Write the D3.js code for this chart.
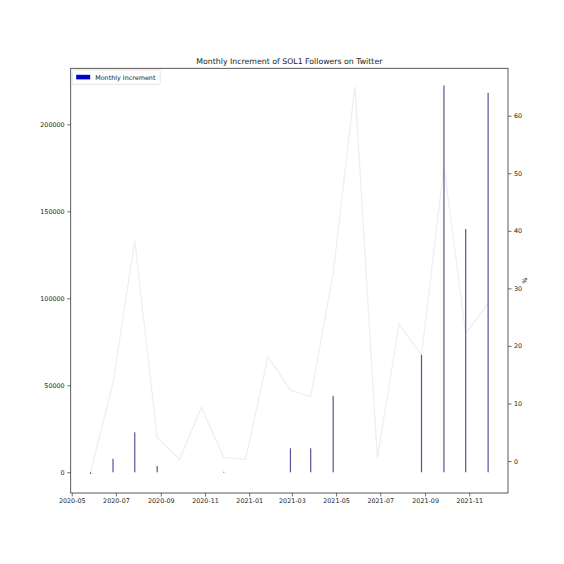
<!DOCTYPE html>
<meta charset="utf-8">
<style>
  body { margin: 0; background: #fff; }
  text { font-family: "DejaVu Sans", sans-serif; fill: #222; }
</style>
<body>
<div id="chart"></div>
<script src="https://cdn.jsdelivr.net/npm/d3@7"></script>
<script>
  // monthly points
  const dates = ['2020-05-27', '2020-06-27', '2020-07-27', '2020-08-27', '2020-09-27',
    '2020-10-27', '2020-11-27', '2020-12-27', '2021-01-27', '2021-02-27',
    '2021-03-27', '2021-04-27', '2021-05-27', '2021-06-27', '2021-07-27',
    '2021-08-27', '2021-09-27', '2021-10-27', '2021-11-27'];
  const increment = [-1000, 7800, 23000, 3600, 0, 0, 300, 0, 0, 13800,
    13800, 43900, 0, 0, 0, 67500, 222300, 139800, 218100];
  const percent = [-1.9, 13.6, 38.3, 4.0, 0.3, 9.3, 0.6, 0.3, 18.1, 12.3,
    11.2, 32.6, 65.1, 0.5, 23.8, 18.4, 51.2, 22.2, 27.4];
  const leftTicks = [0, 50000, 100000, 150000, 200000];
  const rightTicks = [0, 10, 20, 30, 40, 50, 60];
  const title = 'Monthly Increment of SOL1 Followers on Twitter';
  const legendLabel = 'Monthly Increment';

  const parse = d3.timeParse('%Y-%m-%d');
  const rows = dates.map((d, i) => ({ date: parse(d), inc: increment[i], pct: percent[i] }));

  const W = 564, H = 564;
  const mLeft = 70.7, mRight = 508, mTop = 68.3, mBottom = 493;

  const svg = d3.select('#chart').append('svg')
      .attr('width', W).attr('height', H);

  // matplotlib style 5% padding round the dates
  const t0 = rows[0].date, t1 = rows[rows.length - 1].date;
  const pad = (t1 - t0) * 0.05;
  const x = d3.scaleTime()
      .domain([new Date(+t0 - pad), new Date(+t1 + pad)])
      .range([mLeft, mRight]);
  const yL = d3.scaleLinear().domain([-11900, 232200]).range([mBottom, mTop]);
  const yR = d3.scaleLinear().domain([-5.56, 68.24]).range([mBottom, mTop]);

  // line on the right axis
  const line = d3.line().x(d => x(d.date)).y(d => yR(d.pct));
  svg.append('path').datum(rows)
      .attr('d', line)
      .attr('fill', 'none')
      .attr('stroke', '#efeff2')
      .attr('stroke-width', 1.3);

  // thin bars on the left axis
  svg.append('g').selectAll('rect').data(rows.filter(d => d.inc !== 0)).enter().append('rect')
      .attr('x', d => x(d.date) - 0.6)
      .attr('y', d => Math.min(yL(d.inc), yL(0)))
      .attr('width', 1.2)
      .attr('height', d => Math.max(Math.abs(yL(d.inc) - yL(0)), 0.8))
      .attr('fill', '#55559c');

  // axes
  const xTicks = d3.timeMonth.range(new Date(2020, 4, 1), new Date(2021, 11, 2), 2);
  const xAxis = d3.axisBottom(x).tickValues(xTicks).tickFormat(d3.timeFormat('%Y-%m'))
      .tickSize(3.5).tickPadding(2);
  const lAxis = d3.axisLeft(yL).tickValues(leftTicks).tickFormat(d3.format('d'))
      .tickSize(3.5).tickPadding(2.5);
  const rAxis = d3.axisRight(yR).tickValues(rightTicks)
      .tickSize(3.5).tickPadding(2.5);

  const gx = svg.append('g').attr('transform', `translate(0,${mBottom})`).call(xAxis);
  const gl = svg.append('g').attr('transform', `translate(${mLeft},0)`).call(lAxis);
  const gr = svg.append('g').attr('transform', `translate(${mRight},0)`).call(rAxis);
  [gx, gl, gr].forEach(g => {
    g.select('.domain').remove();
    g.selectAll('.tick line').attr('stroke', '#333').attr('stroke-width', 0.7);
    g.selectAll('.tick text').attr('font-size', 6.4).style('fill', '#222')
        .attr('font-family', '"DejaVu Sans", sans-serif');
  });

  // frame
  svg.append('rect')
      .attr('x', mLeft).attr('y', mTop)
      .attr('width', mRight - mLeft).attr('height', mBottom - mTop)
      .attr('fill', 'none').attr('stroke', '#333').attr('stroke-width', 0.8);

  svg.append('text')
      .attr('x', (mLeft + mRight) / 2).attr('y', mTop - 4.5)
      .attr('text-anchor', 'middle')
      .attr('font-size', 7.8)
      .text(title);

  svg.append('text')
      .attr('transform', `translate(${mRight + 19},${(mTop + mBottom) / 2}) rotate(-90)`)
      .attr('text-anchor', 'middle')
      .attr('font-size', 6.4)
      .text('%');

  // legend
  const lg = svg.append('g').attr('transform', `translate(${mLeft + 1.5},${mTop + 1.5})`);
  lg.append('rect')
      .attr('width', 88).attr('height', 14.5).attr('rx', 1.5)
      .attr('fill', '#fff').attr('stroke', '#ddd').attr('stroke-width', 0.8);
  lg.append('rect')
      .attr('x', 4).attr('y', 5).attr('width', 14).attr('height', 4.6)
      .attr('fill', '#0000cc');
  lg.append('text')
      .attr('x', 23).attr('y', 9.8)
      .attr('font-size', 6.4)
      .text(legendLabel);
</script>
